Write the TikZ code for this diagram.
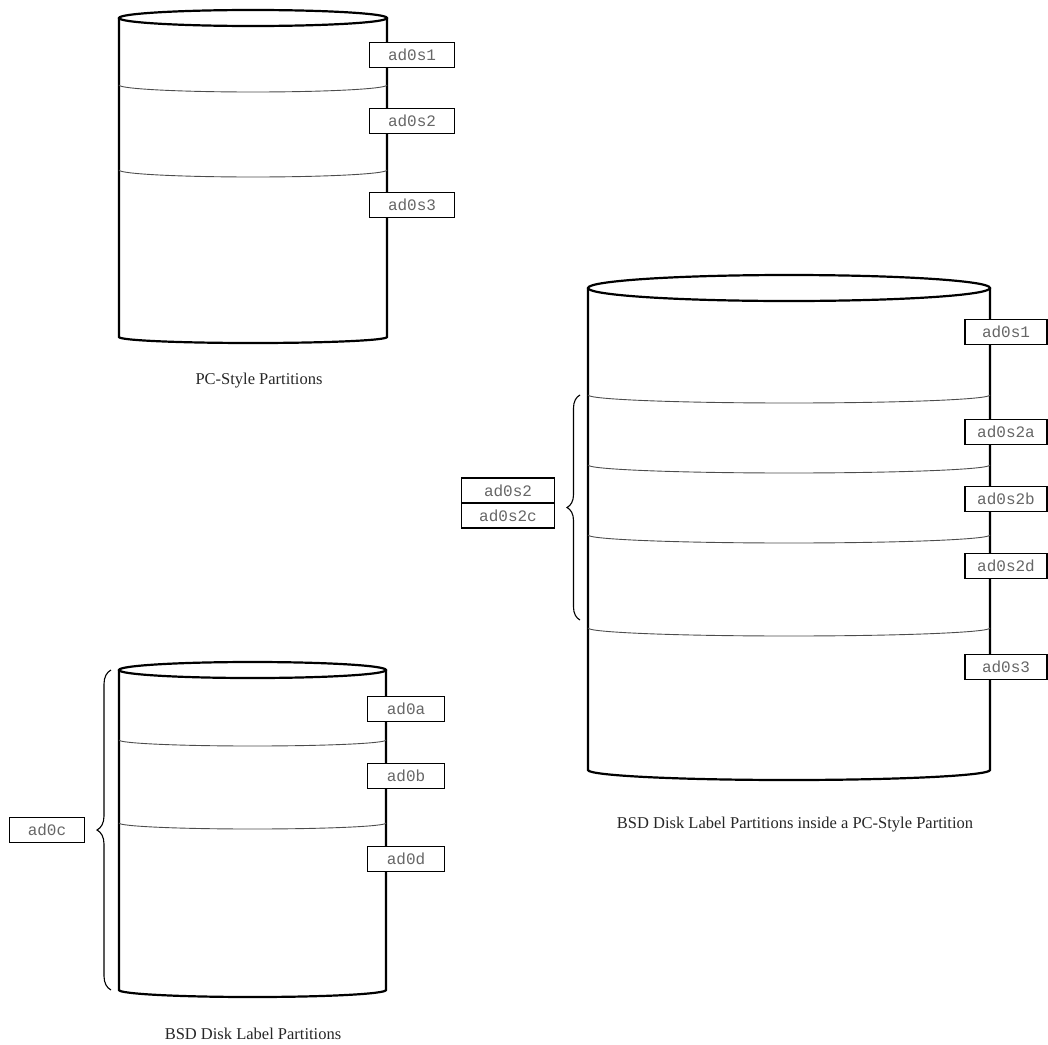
\documentclass[tikz,border=0pt]{standalone}
\usepackage{fontspec}
\setmainfont{Liberation Serif}
\setmonofont{Liberation Mono}
\usetikzlibrary{positioning,decorations.pathreplacing}

\tikzset{
  diskline/.style={line width=2.2pt, black},
  partline/.style={line width=0.9pt, black!70},
  partlabel/.style={draw, line width=1.1pt, fill=white, text=black!60,
    font=\ttfamily\fontsize{16}{16}\selectfont, minimum height=25, inner sep=0pt},
  caption/.style={font=\fontsize{16.5}{16.5}\selectfont, text=black!85, inner sep=1pt},
  bracket/.style={decorate, decoration={brace, amplitude=14pt}, line width=1.1pt}
}

\begin{document}
\begin{tikzpicture}[x=1pt, y=-1pt]
\useasboundingbox (0,0) rectangle (1048,1044);

% PC-style disk (top left)
\draw[diskline] (253,18) ellipse[x radius=134, y radius=8];
\draw[diskline] (119,18) -- (119,337) arc[start angle=180, end angle=0, x radius=134, y radius=6] -- (387,18);
\foreach \y in {85,170}
  \draw[partline] (119,\y) arc[start angle=180, end angle=0, x radius=134, y radius=7];
\node[partlabel, minimum width=85] (pcsa) at (412,55)  {ad0s1};
\node[partlabel, minimum width=85] (pcsb) at (412,121) {ad0s2};
\node[partlabel, minimum width=85] (pcsc) at (412,205) {ad0s3};
\node[caption] (pccap) at (259,381) {PC-Style Partitions};

% BSD disk label (bottom left)
\draw[diskline] (252.5,670) ellipse[x radius=133.5, y radius=8];
\draw[diskline] (119,670) -- (119,990) arc[start angle=180, end angle=0, x radius=133.5, y radius=7] -- (386,670);
\foreach \y in {740,823}
  \draw[partline] (119,\y) arc[start angle=180, end angle=0, x radius=133.5, y radius=6];
\node[partlabel, minimum width=77] (bsda) at (406,709) {ad0a};
\node[partlabel, minimum width=77] (bsdb) at (406,776) {ad0b};
\node[partlabel, minimum width=77] (bsdd) at (406,859) {ad0d};
\coordinate (bsdlo) at (111,990);
\coordinate (bsdhi) at (111,670);
\draw[bracket] (bsdlo) -- (bsdhi);
\node[partlabel, minimum width=75] (bsdc) at (47,830) {ad0c};
\node[caption] (bsdcap) at (253,1034) {BSD Disk Label Partitions};

% BSD disk label inside a PC-style slice (right)
\draw[diskline] (789,288) ellipse[x radius=201, y radius=13];
\draw[diskline] (588,288) -- (588,770) arc[start angle=180, end angle=0, x radius=201, y radius=10] -- (990,288);
\foreach \y in {395,465,535,628}
  \draw[partline] (588,\y) arc[start angle=180, end angle=0, x radius=201, y radius=8];
\node[partlabel, minimum width=82] (mixa)  at (1006,332) {ad0s1};
\node[partlabel, minimum width=82] (mixba) at (1006,432) {ad0s2a};
\node[partlabel, minimum width=82] (mixbb) at (1006,499) {ad0s2b};
\node[partlabel, minimum width=82] (mixbd) at (1006,566) {ad0s2d};
\node[partlabel, minimum width=82] (mixc)  at (1006,667) {ad0s3};
\coordinate (mixlo) at (580,620);
\coordinate (mixhi) at (580,395);
\draw[bracket, decoration={amplitude=13pt}] (mixlo) -- (mixhi);
\node[partlabel, minimum width=93] (mixb) at (508,490.5) {ad0s2};
\node[partlabel, minimum width=93, below=-1.1pt of mixb] (mixbc) {ad0s2c};
\node[caption] (mixcap) at (795,825) {BSD Disk Label Partitions inside a PC-Style Partition};

\end{tikzpicture}
\end{document}
